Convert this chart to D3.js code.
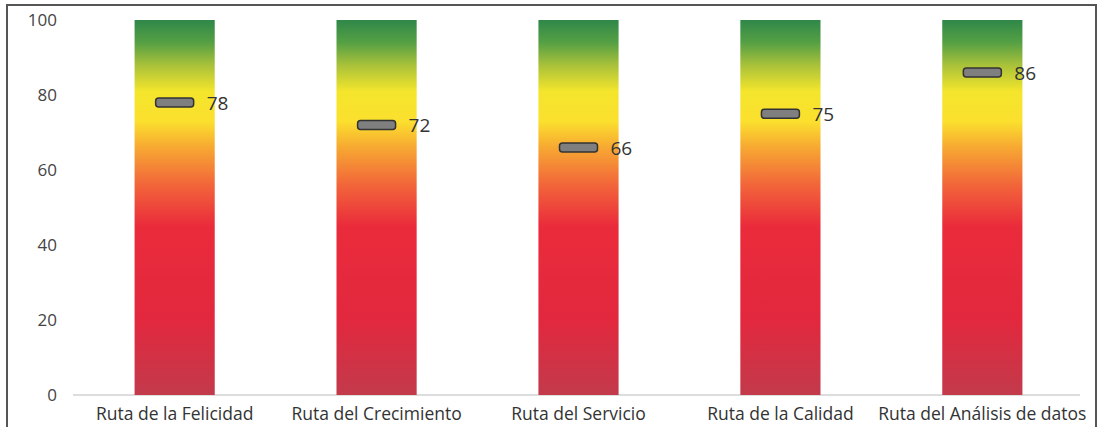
<!DOCTYPE html>
<html><head><meta charset="utf-8">
<script src="https://cdn.jsdelivr.net/npm/d3@7"></script>
<style>body{margin:0;background:#fff}svg{display:block}text{font-family:"Open Sans",Lato,sans-serif}</style>
</head><body>
<svg id="c" width="1099" height="427"></svg>
<script>
const categories = ["Ruta de la Felicidad","Ruta del Crecimiento","Ruta del Servicio","Ruta de la Calidad","Ruta del Análisis de datos"];
const scores = [78,72,66,75,86];
const maxValues = [100,100,100,100,100];
const yTicks = [0,20,40,60,80,100];

const svg = d3.select("#c");
const x = d3.scaleBand().domain(categories).range([74,1083]).paddingInner(0.603).paddingOuter(0.3);
const y = d3.scaleLinear().domain([0,100]).range([395,20]);

// frame
svg.append("rect").attr("x",7).attr("y",5).attr("width",1089).attr("height",440)
  .attr("fill","none").attr("stroke","#555").attr("stroke-width",2);

const defs = svg.append("defs");
const g = defs.append("linearGradient").attr("id","grad").attr("x1",0).attr("y1",1).attr("x2",0).attr("y2",0);
[[0,"#c23a4b"],[0.2,"#e2283e"],[0.45,"#ea2b3b"],[0.56,"#f2653a"],[0.66,"#f7a832"],[0.73,"#fbe02e"],[0.81,"#f4e52c"],[0.88,"#a8c13a"],[0.94,"#55a044"],[1,"#2f8749"]]
  .forEach(([o,c])=>g.append("stop").attr("offset",o).attr("stop-color",c));

// baseline
svg.append("line").attr("x1",73).attr("x2",1080).attr("y1",y(0)).attr("y2",y(0)).attr("stroke","#bbb").attr("stroke-width",1);

// y axis labels
svg.selectAll(".yt").data(yTicks).join("text").attr("class","yt")
  .attr("x",57).attr("y",d=>y(d)).attr("dy","0.35em").attr("text-anchor","end")
  .attr("font-size",17).attr("fill","#444").text(d=>d);

// bars
svg.selectAll(".bar").data(categories).join("rect").attr("class","bar")
  .attr("x",d=>x(d)).attr("width",x.bandwidth())
  .attr("y",(d,i)=>y(maxValues[i])).attr("height",(d,i)=>y(0)-y(maxValues[i]))
  .attr("fill","url(#grad)");

// markers
const mw=38, mh=9;
svg.selectAll(".mk").data(categories).join("rect").attr("class","mk")
  .attr("x",d=>x(d)+x.bandwidth()/2-mw/2).attr("y",(d,i)=>y(scores[i])-mh/2)
  .attr("width",mw).attr("height",mh).attr("rx",3)
  .attr("fill","#7f7f7f").attr("stroke","#333").attr("stroke-width",1.5);

svg.selectAll(".vl").data(categories).join("text").attr("class","vl")
  .attr("x",d=>x(d)+x.bandwidth()/2+mw/2+13).attr("y",(d,i)=>y(scores[i])).attr("dy","0.38em")
  .attr("font-size",19).attr("fill","#333").text((d,i)=>scores[i]);

// category labels
svg.selectAll(".cl").data(categories).join("text").attr("class","cl")
  .attr("x",d=>x(d)+x.bandwidth()/2).attr("y",420).attr("text-anchor","middle")
  .attr("font-size",17.5).attr("fill","#333").text(d=>d);
</script>
</body></html>
